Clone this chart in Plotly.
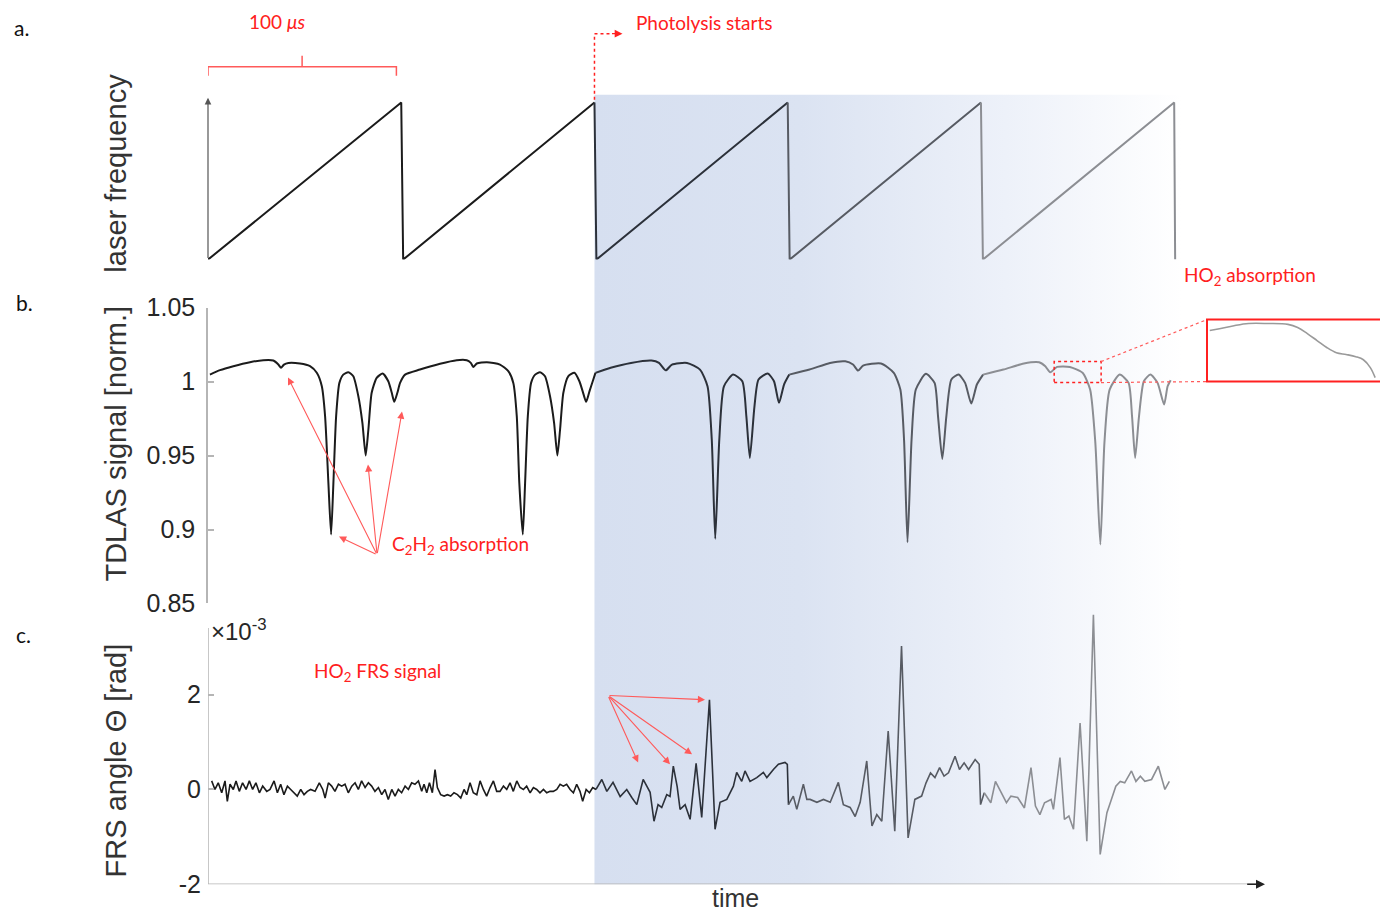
import plotly.graph_objects as go

W, H = 1380, 922

# ---------------- data ----------------
# a. laser frequency sawtooth (time in µs, normalised frequency)
saw_t = [0, 100, 101, 200, 201, 300, 301, 400, 401, 500, 500.5]
saw_f = [0, 1, 0, 1, 0, 1, 0, 1, 0, 1, 0]

# b. TDLAS signal [norm.]
tdlas_t = [1.0, 6.2, 13.1, 21.7, 28.6, 33.8, 36.4, 37.8, 39.3, 41.6,
           47.6, 52.8, 56.3, 58.9, 60.6, 62.3, 63.7, 64.9, 66.3, 68.0,
           70.0, 72.6, 75.2, 77.8, 79.9, 81.6, 83.0, 84.7, 87.3, 90.4,
           93.3, 95.1, 96.4, 98.0, 99.4, 102.0, 109.7, 120.1, 128.7, 133.9,
           136.0, 137.3, 139.1, 144.3, 151.1, 155.4, 158.0, 159.8, 161.1, 162.9,
           164.1, 165.5, 167.2, 169.3, 171.8, 174.4, 177.0, 179.1, 180.8, 182.2,
           183.9, 186.5, 189.6, 192.2, 193.9, 195.7, 197.4, 199.4,
           200.5, 208.4, 218.9, 229.5, 233.4, 236.9, 240.1, 247.9, 254.6, 258.5,
           260.7, 262.5, 264.6, 267.0, 271.7, 276.5, 278.6, 280.4, 282.8, 284.9,
           289.7, 292.9, 295.5, 298.1, 300.8, 311.3, 321.9, 329.8, 333.8, 336.4,
           339.0, 348.3, 354.9, 358.3, 360.2, 362.0, 364.1, 366.3, 371.5, 376.0,
           377.8, 380.0, 382.1, 384.7, 388.4, 391.8, 395.0, 397.9, 401.1, 411.6,
           422.2, 430.1, 433.3, 435.9, 439.4, 446.0, 452.6, 456.5, 459.2, 461.8,
           463.9, 466.6, 471.8, 476.4, 478.2, 479.8, 481.8, 484.3, 487.7, 491.4,
           494.8, 496.6, 498.2]
tdlas_v = [1.0047, 1.0077, 1.0104, 1.0131, 1.0144, 1.0142, 1.0115, 1.0093, 1.0115, 1.0126,
           1.0122, 1.0104, 1.0059, 0.9968, 0.9765, 0.9315, 0.8966, 0.9317, 0.9765, 0.9991,
           1.0047, 1.0063, 1.0036, 0.9901, 0.9721, 0.9500, 0.9676, 0.9924, 1.0025, 1.0054,
           1.0002, 0.9924, 0.9863, 0.9924, 0.9991, 1.0047, 1.0081, 1.0120, 1.0144, 1.0144,
           1.0126, 1.0099, 1.0122, 1.0131, 1.0115, 1.0070, 0.9991, 0.9765, 0.9315, 0.8966,
           0.9315, 0.9765, 0.9991, 1.0047, 1.0063, 1.0036, 0.9901, 0.9721, 0.9500, 0.9676,
           0.9924, 1.0036, 1.0059, 1.0002, 0.9934, 0.9863, 0.9934, 1.0014,
           1.0059, 1.0093, 1.0126, 1.0142, 1.0126, 1.0076, 1.0115, 1.0126, 1.0081, 0.9968,
           0.9608, 0.8937, 0.9608, 0.9968, 1.0047, 1.0002, 0.9765, 0.9484, 0.9833, 1.0014,
           1.0054, 1.0002, 0.9856, 0.9980, 1.0047, 1.0081, 1.0126, 1.0137, 1.0115, 1.0074,
           1.0108, 1.0122, 1.0059, 0.9946, 0.9608, 0.8914, 0.9608, 0.9946, 1.0052, 0.9991,
           0.9765, 0.9477, 0.9765, 1.0014, 1.0047, 0.9991, 0.9851, 0.9980, 1.0047, 1.0081,
           1.0122, 1.0130, 1.0103, 1.0063, 1.0099, 1.0099, 1.0059, 0.9946, 0.9586, 0.8898,
           0.9586, 0.9946, 1.0047, 0.9991, 0.9765, 0.9484, 0.9765, 1.0002, 1.0047, 0.9991,
           0.9845, 0.9968, 1.0009]

# HO2 absorption zoom (inset)
ho2_t = [438.3, 439.7, 441.8, 443.9, 446.7, 449.6, 451.0, 452.4, 453.8, 455.2,
         456.6, 458.0, 459.4, 460.5, 461.5, 462.2]
ho2_v = [1.0110, 1.0114, 1.0121, 1.0126, 1.0126, 1.0124, 1.0117, 1.0103, 1.0087, 1.0071,
         1.0059, 1.0055, 1.0050, 1.0043, 1.0025, 1.0002]

# c. FRS angle (x10^-3 rad)
frs_t = [1.9, 3.6, 5.3, 7.1, 8.8, 10.0, 11.4, 13.1, 14.5, 16.2,
         17.9, 19.7, 21.4, 23.1, 24.8, 26.6, 28.3, 30.4, 32.1, 34.2,
         35.9, 37.6, 39.3, 41.1, 42.8, 44.5, 46.2, 48.0, 49.7, 51.4,
         53.1, 55.4, 57.6, 59.4, 60.6, 62.3, 64.0, 65.7, 67.5, 69.2,
         70.9, 72.6, 74.4, 76.1, 77.8, 79.5, 81.3, 83.0, 84.7, 86.4,
         88.2, 89.9, 91.6, 93.3, 95.1, 96.8, 98.5, 100.2, 102.0, 103.7,
         105.4, 107.1, 108.9, 110.6, 111.8, 113.2, 114.6, 116.1, 117.5, 118.7,
         120.4, 122.2, 123.9, 125.6, 127.3, 129.1, 130.8, 132.5, 133.9, 135.6,
         137.3, 139.1, 140.8, 142.5, 144.2, 146.0, 147.7, 149.4, 151.1, 152.9,
         154.6, 156.3, 158.0, 159.8, 161.5, 163.2, 164.9, 166.7, 168.4, 170.1,
         171.8, 173.6, 175.3, 177.0, 178.7, 180.5, 182.2, 183.9, 185.6, 187.4,
         189.1, 190.8, 192.5, 193.9, 195.7, 197.4, 199.1, 200.8,
         203.8, 206.4, 209.6, 213.3, 216.7, 219.3, 221.9, 225.2, 228.8, 230.8,
         232.9, 234.8, 237.4, 239.1, 240.8, 242.8, 244.3, 246.9, 249.5, 252.6,
         255.5, 259.5, 262.4, 265.0, 268.5, 271.9, 273.6, 276.2, 277.9, 280.5,
         284.0, 287.4, 289.2, 292.6, 295.2, 298.6, 299.8, 300.4, 302.9, 304.7,
         308.1, 309.9, 311.6, 315.1, 318.5, 322.0, 326.2, 328.8, 332.3, 334.9,
         337.5, 340.9, 343.6, 346.1, 348.7, 352.0, 355.4, 358.9, 362.3, 365.8,
         369.3, 371.6, 373.9, 376.2, 378.6, 380.9, 383.2, 386.6, 388.9, 391.3,
         393.6, 397.0, 399.1, 399.8, 401.7, 405.1, 407.5, 410.9, 413.2, 415.5,
         419.0, 422.5, 425.9, 428.2, 430.5, 432.9, 436.3, 437.5, 440.9, 443.2,
         445.5, 447.9, 451.3, 454.8, 458.2, 461.7, 465.2, 467.5, 469.8, 472.1,
         474.4, 477.9, 480.2, 482.5, 484.8, 488.3, 491.8, 495.2, 497.5]
frs_v = [0.18, 0, 0.14, -0.07, 0.18, -0.25, 0.11, 0, 0.18, -0.04,
         0.14, 0, 0.18, 0, 0.14, -0.07, 0.07, -0.04, 0, 0.18,
         -0.07, 0.11, -0.11, 0.07, 0, -0.07, -0.14, 0, -0.11, -0.04,
         0, -0.04, 0.14, 0, -0.18, 0.14, 0.07, -0.04, 0.11, 0.07,
         0.11, -0.07, 0.07, 0.14, 0, 0.18, 0.04, 0.14, 0.07, -0.04,
         0.04, -0.11, 0, -0.21, 0, -0.14, 0, -0.07, 0.07, 0,
         0.14, 0.11, 0.18, -0.04, 0.11, -0.07, 0.14, -0.07, 0.42, 0.04,
         -0.11, -0.14, -0.11, -0.14, -0.07, -0.11, -0.18, 0, -0.11, 0.14,
         -0.07, -0.11, 0.18, 0, -0.14, 0.04, 0.18, -0.04, -0.04, 0.07,
         0, 0.14, -0.04, 0.18, 0.04, 0, 0.07, -0.07, 0.04, 0,
         -0.07, 0, -0.07, -0.04, -0.04, 0, 0.11, 0.07, 0.11, 0,
         -0.07, 0.11, -0.04, -0.25, 0, -0.07, 0.04, 0,
         0.21, -0.04, 0.15, -0.15, 0, -0.17, -0.32, 0.21, -0.06, -0.67,
         -0.32, -0.38, -0.11, -0.15, 0.49, 0.06, -0.42, -0.32, -0.63, 0.55,
         -0.59, 1.89, -0.84, -0.27, -0.21, 0.07, 0.36, 0.17, 0.39, 0.17,
         0.25, 0.36, 0.25, 0.42, 0.53, 0.57, 0.53, -0.32, -0.14, -0.42,
         0.11, -0.21, -0.21, -0.27, -0.21, -0.27, 0.15, -0.32, -0.38, -0.57,
         -0.27, 0.6, -0.77, -0.53, -0.67, 1.23, -0.88, 3.02, -1.02, -0.21,
         -0.14, 0.14, 0.35, 0.25, 0.46, 0.28, 0.35, 0.70, 0.42, 0.56,
         0.42, 0.63, 0.53, -0.32, -0.07, -0.28, 0.17, -0.11, -0.28, -0.14,
         -0.17, -0.39, 0.46, -0.35, -0.53, -0.28, -0.21, -0.42, 0.67, -0.63,
         -0.56, -0.84, 1.40, -1.09, 3.68, -1.37, -0.49, -0.21, 0.07, 0.17,
         0.14, 0.39, 0.17, 0.28, 0.17, 0.21, 0.49, 0, 0.17]

tdlas_ticks = [0.85, 0.9, 0.95, 1.0, 1.05]
tdlas_ticktext = ["0.85", "0.9", "0.95", "1", "1.05"]
frs_ticks = [-2, 0, 2]
frs_ticktext = ["-2", "0", "2"]

photolysis_t = 200      # µs
period_bounds = [0, 200, 300, 400, 10000]
seg_colors = ["#1b1b1b", "#2c313a", "#575b63", "#8c8e93"]

# ---------------- layout geometry ----------------
X_RANGE = [0, 547]
X_DOM = [208 / W, 1265 / W]
# vertical placement calibration (target pixel -> paper fraction)
V_OFF, V_SC = 14.3, 0.970

def PX(p):
    return p / W

def PY(p):
    return 1 - ((p - V_OFF) / V_SC) / H

def split(ts, vs, bounds):
    segs = []
    for a, b in zip(bounds[:-1], bounds[1:]):
        idx = [i for i, t in enumerate(ts) if a <= t < b]
        if not idx:
            continue
        if idx[-1] + 1 < len(ts):
            idx.append(idx[-1] + 1)
        segs.append(([ts[i] for i in idx], [vs[i] for i in idx]))
    return segs

fig = go.Figure()

# shaded (photolysis) region with horizontal fade
fig.add_trace(go.Scatter(
    x=[photolysis_t, 504, 504, photolysis_t, photolysis_t],
    y=[PY(885), PY(885), PY(95), PY(95), PY(885)],
    xaxis="x", yaxis="y", mode="lines", fill="toself",
    line=dict(width=0, color="rgba(0,0,0,0)"),
    fillgradient=dict(type="horizontal", colorscale=[
        [0, "rgb(214,223,240)"], [0.35, "rgb(219,227,242)"],
        [0.7, "rgb(237,241,249)"], [1, "rgb(255,255,255)"]]),
    hoverinfo="skip", showlegend=False))

for k, (xs, ys) in enumerate(split(saw_t, saw_f, period_bounds)):
    fig.add_trace(go.Scatter(x=xs, y=ys, xaxis="x2", yaxis="y2", mode="lines",
                             line=dict(color=seg_colors[k], width=2), showlegend=False))
for k, (xs, ys) in enumerate(split(tdlas_t, tdlas_v, period_bounds)):
    fig.add_trace(go.Scatter(x=xs, y=ys, xaxis="x3", yaxis="y3", mode="lines",
                             line=dict(color=seg_colors[k], width=2, shape="spline", smoothing=0.6),
                             showlegend=False))
for k, (xs, ys) in enumerate(split(frs_t, frs_v, period_bounds)):
    fig.add_trace(go.Scatter(x=xs, y=ys, xaxis="x4", yaxis="y4", mode="lines",
                             line=dict(color=seg_colors[k], width=1.6), showlegend=False))
fig.add_trace(go.Scatter(x=ho2_t, y=ho2_v, xaxis="x5", yaxis="y5", mode="lines",
                         line=dict(color="#9a9a9a", width=1.6, shape="spline"), showlegend=False))

tick_font = dict(family="Liberation Sans, Arial, sans-serif", size=25, color="#262626")
hidden_x = dict(domain=X_DOM, range=X_RANGE, visible=False, fixedrange=True)
axis_grey = "#b5b5b5"

fig.update_layout(
    width=W, height=H, margin=dict(l=0, r=0, t=0, b=0),
    paper_bgcolor="white", plot_bgcolor="rgba(0,0,0,0)",
    showlegend=False,
    xaxis=dict(hidden_x),
    yaxis=dict(domain=[0, 1], range=[0, 1], visible=False),
    xaxis2=dict(hidden_x, anchor="y2"),
    yaxis2=dict(domain=[PY(260), PY(95)], range=[0, 1.05], visible=False, anchor="x2"),
    xaxis3=dict(hidden_x, anchor="y3"),
    yaxis3=dict(domain=[PY(604), PY(308)], range=[0.85, 1.05], anchor="x3",
                showline=True, linecolor=axis_grey, linewidth=1.5, showgrid=False, zeroline=False,
                ticks="inside", ticklen=6, tickcolor=axis_grey, tickwidth=1.5,
                tickvals=tdlas_ticks, ticktext=tdlas_ticktext, tickfont=tick_font,
                ticklabelstandoff=6),
    xaxis4=dict(hidden_x, anchor="y4"),
    yaxis4=dict(domain=[PY(885), PY(612)], range=[-2, 3.75], anchor="x4",
                showline=False, showgrid=False, zeroline=False,
                ticks="inside", ticklen=6, tickcolor=axis_grey, tickwidth=1.5,
                tickvals=frs_ticks, ticktext=frs_ticktext, tickfont=tick_font,
                ticklabelstandoff=6),
    xaxis5=dict(domain=[PX(1207), 1.0], range=[437.9, 462.9], visible=False, anchor="y5"),
    yaxis5=dict(domain=[PY(382), PY(320)], range=[0.9993, 1.0135], visible=False, anchor="x5"),
)

red = "#ff2020"
red_light = "#ff5a5a"
shapes = [
    # FRS axes
    dict(type="line", xref="x4", yref="y4", x0=0, x1=0, y0=-2, y1=3.4,
         line=dict(color=axis_grey, width=1.5)),
    dict(type="line", xref="x4", yref="y4", x0=0, x1=543, y0=-2, y1=-2,
         line=dict(color=axis_grey, width=1.5)),
    # 100 µs bracket
    dict(type="path", xref="x2", yref="paper",
         path=f"M 0,{PY(76)} L 0,{PY(67)} L 97.5,{PY(67)} L 97.5,{PY(76)}",
         line=dict(color=red_light, width=1.5)),
    dict(type="line", xref="x2", yref="paper", x0=48.7, x1=48.7, y0=PY(67), y1=PY(56),
         line=dict(color=red_light, width=1.5)),
    # photolysis starts dotted marker
    dict(type="path", xref="x2", yref="paper",
         path=f"M {photolysis_t},{PY(100)} L {photolysis_t},{PY(34)} L 208,{PY(34)}",
         line=dict(color=red, width=1.5, dash="dot")),
    # HO2 zoom boxes
    dict(type="rect", xref="x3", yref="y3", x0=437.9, x1=462.2, y0=0.9993, y1=1.0135,
         line=dict(color=red, width=1.5, dash="dot")),
    dict(type="rect", xref="paper", yref="paper", x0=PX(1207), x1=1.01, y0=PY(382), y1=PY(320),
         line=dict(color=red, width=2)),
    dict(type="line", xref="paper", yref="paper", x0=PX(1101), y0=PY(362), x1=PX(1207), y1=PY(320),
         line=dict(color=red_light, width=1.2, dash="dot")),
    dict(type="line", xref="paper", yref="paper", x0=PX(1101), y0=PY(383), x1=PX(1207), y1=PY(382),
         line=dict(color=red_light, width=1.2, dash="dot")),
]
fig.update_layout(shapes=shapes)

lab_font = dict(family="Liberation Sans, Arial, sans-serif", size=29, color="#333333")
red_font = dict(family="Lato, sans-serif", size=19, color=red)
ann = []

def text(x, y, t, font, xanchor="center", angle=0, yanchor="middle"):
    ann.append(dict(x=x, y=y, xref="paper", yref="paper", text=t, showarrow=False,
                    font=font, xanchor=xanchor, yanchor=yanchor, textangle=angle))

# panel letters
pf = dict(family="Lato, sans-serif", size=21, color="#111111")
text(PX(12), PY(28), "a.", pf, "left")
text(PX(14), PY(303), "b.", pf, "left")
text(PX(14), PY(635), "c.", pf, "left")

# axis titles
text(PX(116), PY(174), "laser frequency", lab_font, angle=-90)
text(PX(116), PY(444), "TDLAS signal [norm.]", lab_font, angle=-90)
text(PX(116), PY(761), "FRS angle Θ [rad]", lab_font, angle=-90)
text(PX(735), -0.007, "time", dict(lab_font, size=25), yanchor="bottom")
text(PX(209), PY(631), "×10<sup>-3</sup>", dict(tick_font, size=24), "left")

# red notes
text(PX(277), PY(22), "100 <i>μs</i>", red_font)
text(PX(634), PY(23), "Photolysis starts", red_font, "left")
text(PX(1250), PY(276), "HO<sub>2</sub> absorption", red_font)
text(PX(390), PY(546), "C<sub>2</sub>H<sub>2</sub> absorption", red_font, "left")
text(PX(377), PY(673), "HO<sub>2</sub> FRS signal", red_font)

def arrow(xr, yr, x, y, ax, ay, color=red, width=1.1, head=2, size=1.3):
    ann.append(dict(x=x, y=y, ax=ax, ay=ay, xref=xr, yref=yr, axref=xr, ayref=yr,
                    text="", showarrow=True, arrowhead=head, arrowsize=size,
                    arrowwidth=width, arrowcolor=color, standoff=0, startstandoff=0))

# laser frequency axis arrow
arrow("x2", "y2", 0, 1.03, 0, 0, color="#555555", width=1.2, head=2, size=1.1)
# time axis arrow head
arrow("x4", "y4", 547, -2, 537, -2, color="#222222", width=1.5, head=2, size=1.2)
# photolysis arrow head (pixel offset for the tail)
ann.append(dict(x=214.5, y=PY(34), xref="x2", yref="paper", ax=-12, ay=0,
                axref="pixel", ayref="pixel", text="", showarrow=True, arrowhead=2,
                arrowsize=1.3, arrowwidth=1.2, arrowcolor=red, standoff=0))
# C2H2 arrows
for hx, hy in [(41.4, 1.0027), (67.8, 0.8952), (82.8, 0.9439), (100.4, 0.9797)]:
    arrow("x3", "y3", hx, hy, 87.5, 0.8830, color=red_light)
# HO2 FRS arrows
for hx, hy in [(257.2, 1.89), (222.6, 0.57), (239.1, 0.53), (250.5, 0.74)]:
    arrow("x4", "y4", hx, hy, 207.0, 1.98, color=red_light)

fig.update_layout(annotations=ann)
fig.write_html("out.html")
